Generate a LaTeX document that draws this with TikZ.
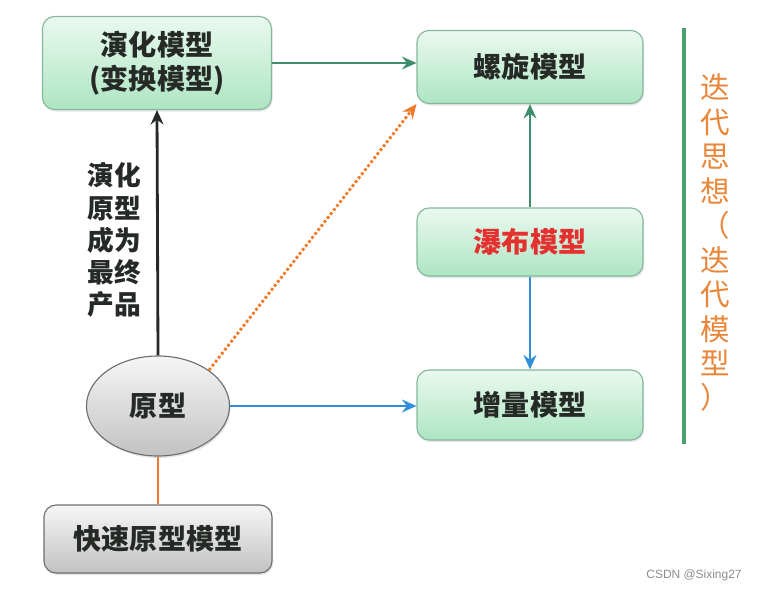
\documentclass[tikz,border=0pt]{standalone}
\usepackage{fontspec}
\setmainfont{Noto Sans CJK SC}
\newfontfamily\marksans{Liberation Sans}
\usetikzlibrary{arrows.meta,positioning,shapes.geometric,shadows}
\definecolor{Ink}{HTML}{262A26}
\definecolor{MintTop}{HTML}{EAF9F0}
\definecolor{MintBot}{HTML}{ADE5C2}
\definecolor{MintLine}{HTML}{86B79C}
\definecolor{GreyTop}{HTML}{F6F6F6}
\definecolor{GreyBot}{HTML}{C2C2C2}
\definecolor{GreyLine}{HTML}{6E6E6E}
\definecolor{Pine}{HTML}{3E8E6E}
\definecolor{Sky}{HTML}{2E8FD8}
\definecolor{Amber}{HTML}{F07A2A}
\definecolor{Rust}{HTML}{E8863A}
\definecolor{Signal}{HTML}{E53030}
\definecolor{Leaf}{HTML}{4CA070}
\tikzset{
  model/.style={
    rounded corners=0.3cm, draw=MintLine, thick, top color=MintTop, bottom color=MintBot,
    minimum width=5.65cm, minimum height=1.75cm, align=center, text=Ink,
    font=\fontsize{20}{24}\selectfont\bfseries,
    drop shadow={opacity=0.2, shadow xshift=0.03cm, shadow yshift=-0.05cm}
  },
  greybox/.style={
    rounded corners=0.3cm, draw=GreyLine, thick, top color=GreyTop, bottom color=GreyBot,
    minimum width=5.7cm, minimum height=1.7cm, align=center, text=Ink,
    font=\fontsize{20}{24}\selectfont\bfseries,
    drop shadow={opacity=0.2, shadow xshift=0.03cm, shadow yshift=-0.05cm}
  },
  protonode/.style={
    ellipse, draw=GreyLine, thick, top color=GreyTop, bottom color=GreyBot,
    minimum width=3.575cm, minimum height=2.5cm, inner sep=0pt, text=Ink,
    font=\fontsize{20}{24}\selectfont\bfseries,
    drop shadow={opacity=0.2, shadow xshift=0.03cm, shadow yshift=-0.05cm}
  },
  flow/.style={-{Stealth[length=3.6mm,width=3.2mm,inset=1.2mm]}, line width=2pt},
  greenflow/.style={flow, draw=Pine},
  blueflow/.style={flow, draw=Sky},
  blackflow/.style={flow, draw=Ink},
  dotflow/.style={flow, draw=Amber, dash pattern=on 2pt off 1.6pt}
}
\begin{document}
\begin{tikzpicture}
  \useasboundingbox (0,0) rectangle (19.05,-14.8);
  \node[model,minimum width=5.725cm,minimum height=2.325cm] (evo) at (3.925,-1.575) {演化模型\\(变换模型)};
  \node[model,minimum height=1.825cm] (spiral) at (13.25,-1.675) {螺旋模型};
  \node[model,minimum height=1.7cm,text=Signal] (fall) at (13.25,-6.05) {瀑布模型};
  \node[model] (incr) at (13.25,-10.125) {增量模型};
  \node[protonode] (proto) at (3.95,-10.15) {原型};
  \node[greybox] (rapid) at (3.95,-13.475) {快速原型模型};
  \node[align=center,text=Ink,font=\fontsize{19}{22.8}\selectfont\bfseries] (note) at (2.85,-6.0) {演化\\原型\\成为\\最终\\产品};
  \coordinate (lineA) at (17.1,-0.7);
  \coordinate (lineB) at (17.1,-11.1);
  \draw[Leaf, line width=2.8pt] (lineA) -- (lineB);
  \node[align=center,text=Rust,font=\fontsize{21}{24.5}\selectfont] (iter) at (17.875,-6.075) {迭\\代\\思\\想\\（\\迭\\代\\模\\型\\）};
  \node[text=GreyLine!80,font=\marksans\fontsize{8.5}{10}\selectfont] (mark) at (17.35,-14.375) {CSDN @Sixing27};
  \draw[greenflow] (evo.east) -- (evo.east -| spiral.west);
  \draw[blackflow] (proto.north) -- (evo.south);
  \draw[dotflow] (proto.north east) -- (spiral.south west);
  \draw[blueflow] (proto.east) -- (proto.east -| incr.west);
  \draw[greenflow] (fall.north) -- (spiral.south);
  \draw[blueflow] (fall.south) -- (incr.north);
  \draw[Amber, line width=2pt] (rapid.north) -- (proto.south);
\end{tikzpicture}
\end{document}
